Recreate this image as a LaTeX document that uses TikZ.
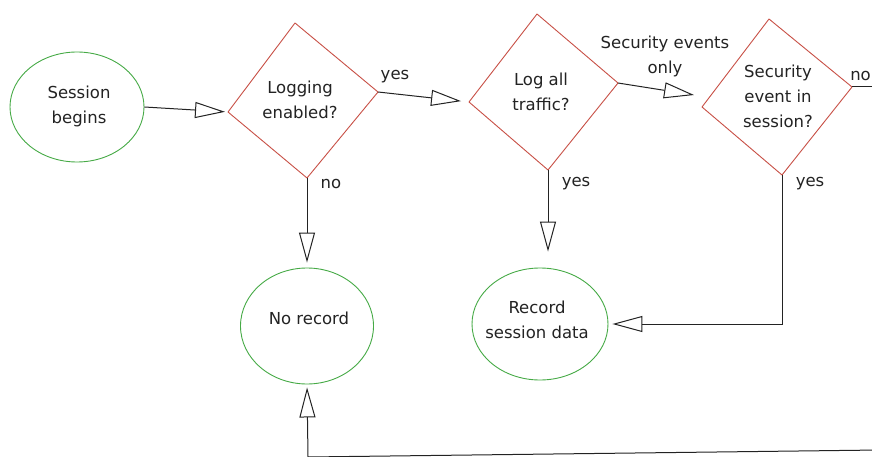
\documentclass[tikz,border=0pt]{standalone}
\usepackage{fontspec}
\setmainfont{DejaVu Sans}
\usetikzlibrary{arrows.meta,shapes.geometric}
\definecolor{termgreen}{RGB}{70,170,70}
\definecolor{decred}{RGB}{200,80,70}
\definecolor{inkgray}{RGB}{35,35,35}
\tikzset{
  termbox/.style={ellipse, draw=termgreen, line width=0.9pt, inner sep=0pt},
  decbox/.style={draw=decred, line width=0.9pt, line join=round},
  txt/.style={font=\fontsize{16.5}{25}\selectfont, text=inkgray, align=center, inner sep=0pt},
  flow/.style={draw=inkgray, line width=1pt, -{Triangle[open,length=30pt,width=16pt,line width=1pt]}},
  plainflow/.style={draw=inkgray, line width=1pt},
}
\begin{document}
\begin{tikzpicture}[x=1pt,y=-1pt]
\useasboundingbox (0,0) rectangle (872,457);
\clip (0,0) rectangle (872,457);
\fill[white] (0,0) rectangle (872,457);

% terminal ellipses
\node[termbox, minimum width=134pt, minimum height=110pt] (sb) at (77,107) {};
\node[txt] (sbt) at (79,106) {Session\\begins};
\node[termbox, minimum width=133pt, minimum height=116pt] (nr) at (307,326) {};
\node[txt] (nrt) at (309,318) {No record};
\node[termbox, minimum width=136pt, minimum height=112pt] (rs) at (540,324) {};
\node[txt] (rst) at (537,320) {Record\\session data};

% decision diamonds
\coordinate (d1t) at (295,23);
\coordinate (d1r) at (378,92);
\coordinate (d1b) at (307,178);
\coordinate (d1l) at (228,112);
\draw[decbox] (d1t) -- (d1r) -- (d1b) -- (d1l) -- cycle;
\node[txt] (d1) at (300,100) {Logging\\enabled?};

\coordinate (d2t) at (537,14);
\coordinate (d2r) at (618,83);
\coordinate (d2b) at (548,170);
\coordinate (d2l) at (469,102);
\draw[decbox] (d2t) -- (d2r) -- (d2b) -- (d2l) -- cycle;
\node[txt] (d2) at (541,92) {Log all\\traffic?};

\coordinate (d3t) at (769,19);
\coordinate (d3r) at (852,87);
\coordinate (d3b) at (782,175);
\coordinate (d3l) at (702,107);
\draw[decbox] (d3t) -- (d3r) -- (d3b) -- (d3l) -- cycle;
\node[txt] (d3) at (778,96) {Security\\event in\\session?};

% connectors
\coordinate (a3end) at (694,95);
\coordinate (offr) at (880,87);
\coordinate (botr) at (880,450);
\coordinate (botl) at (308,457);
\draw[flow, shorten >=3pt] (sb.east) -- (d1l);
\draw[flow, shorten >=8pt] (d1r) -- (d2l);
\draw[flow] (d2r) -- (a3end);
\draw[flow, shorten >=5pt] (d1b) -- (nr.north);
\draw[flow, shorten >=16pt] (d2b) -- (d2b |- rs.north);
\draw[flow, shorten >=4pt] (d3b) |- (rs.east);
\draw[plainflow] (d3r) -- (offr);
\draw[flow, shorten >=3pt] (botr) -- (botl) -- (nr.south);

% labels
\node[txt] (lyes1) at (395,77) {yes};
\node[txt] (lno1) at (331,184) {no};
\node[txt] (lyes2) at (576,184) {yes};
\node[txt] (lsec) at (665,56) {Security events\\only};
\node[txt] (lyes3) at (810,184) {yes};
\node[txt, anchor=east] (lno2) at (871,76) {no};
\end{tikzpicture}
\end{document}
